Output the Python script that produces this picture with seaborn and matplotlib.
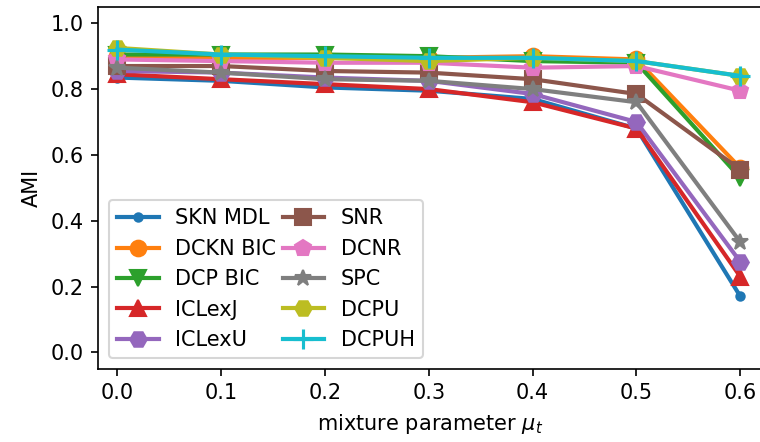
import matplotlib
matplotlib.use("Agg")
import matplotlib.pyplot as plt
import seaborn as sns
import numpy as np

mu = [0.0, 0.1, 0.2, 0.3, 0.4, 0.5, 0.6]

skn_mdl = [0.835, 0.825, 0.805, 0.795, 0.770, 0.680, 0.170]
dckn_bic = [0.900, 0.895, 0.895, 0.895, 0.900, 0.890, 0.560]
dcp_bic = [0.905, 0.905, 0.905, 0.900, 0.885, 0.880, 0.530]
iclexj = [0.845, 0.830, 0.815, 0.800, 0.760, 0.680, 0.230]
iclexu = [0.855, 0.850, 0.835, 0.825, 0.785, 0.700, 0.275]
snr = [0.870, 0.870, 0.855, 0.850, 0.830, 0.785, 0.555]
dcnr = [0.890, 0.885, 0.880, 0.880, 0.865, 0.870, 0.795]
spc = [0.865, 0.850, 0.830, 0.825, 0.800, 0.760, 0.335]
dcpu = [0.925, 0.905, 0.895, 0.885, 0.895, 0.885, 0.840]
dcpuh = [0.920, 0.905, 0.900, 0.895, 0.895, 0.885, 0.840]

labels = ["SKN MDL", "DCKN BIC", "DCP BIC", "ICLexJ", "ICLexU",
          "SNR", "DCNR", "SPC", "DCPU", "DCPUH"]
series = [skn_mdl, dckn_bic, dcp_bic, iclexj, iclexu, snr, dcnr, spc, dcpu, dcpuh]
markers = [".", "o", "v", "^", "H", "s", "p", "*", "H", "+"]
colors = sns.color_palette("tab10", 10)

fig = plt.figure(figsize=(760 / 150, 442 / 150), dpi=150)
ax = fig.add_axes([98.3 / 760, (442 - 368.8) / 442, 662.8 / 760, 362.0 / 442])

for lab, vals, mk, col in zip(labels, series, markers, colors):
    ms = 8
    if mk == "o":
        ms = 7.5
    if mk == "+":
        ms = 10
    sns.lineplot(x=mu, y=vals, ax=ax, label=lab, marker=mk, color=col,
                 markersize=ms, linewidth=2, markeredgecolor=col,
                 markeredgewidth=1.5 if mk == "+" else 1)

ax.set_xlim(-0.0183, 0.62)
ax.set_ylim(-0.05, 1.05)
ax.set_xticks([0.0, 0.1, 0.2, 0.3, 0.4, 0.5, 0.6])
ax.set_yticks([0.0, 0.2, 0.4, 0.6, 0.8, 1.0])
ax.set_xlabel(r"mixture parameter $\mu_t$")
ax.set_ylabel("AMI")
ax.legend(loc="lower left", ncol=2, columnspacing=0.3)

fig.savefig("out.png", dpi=150)
